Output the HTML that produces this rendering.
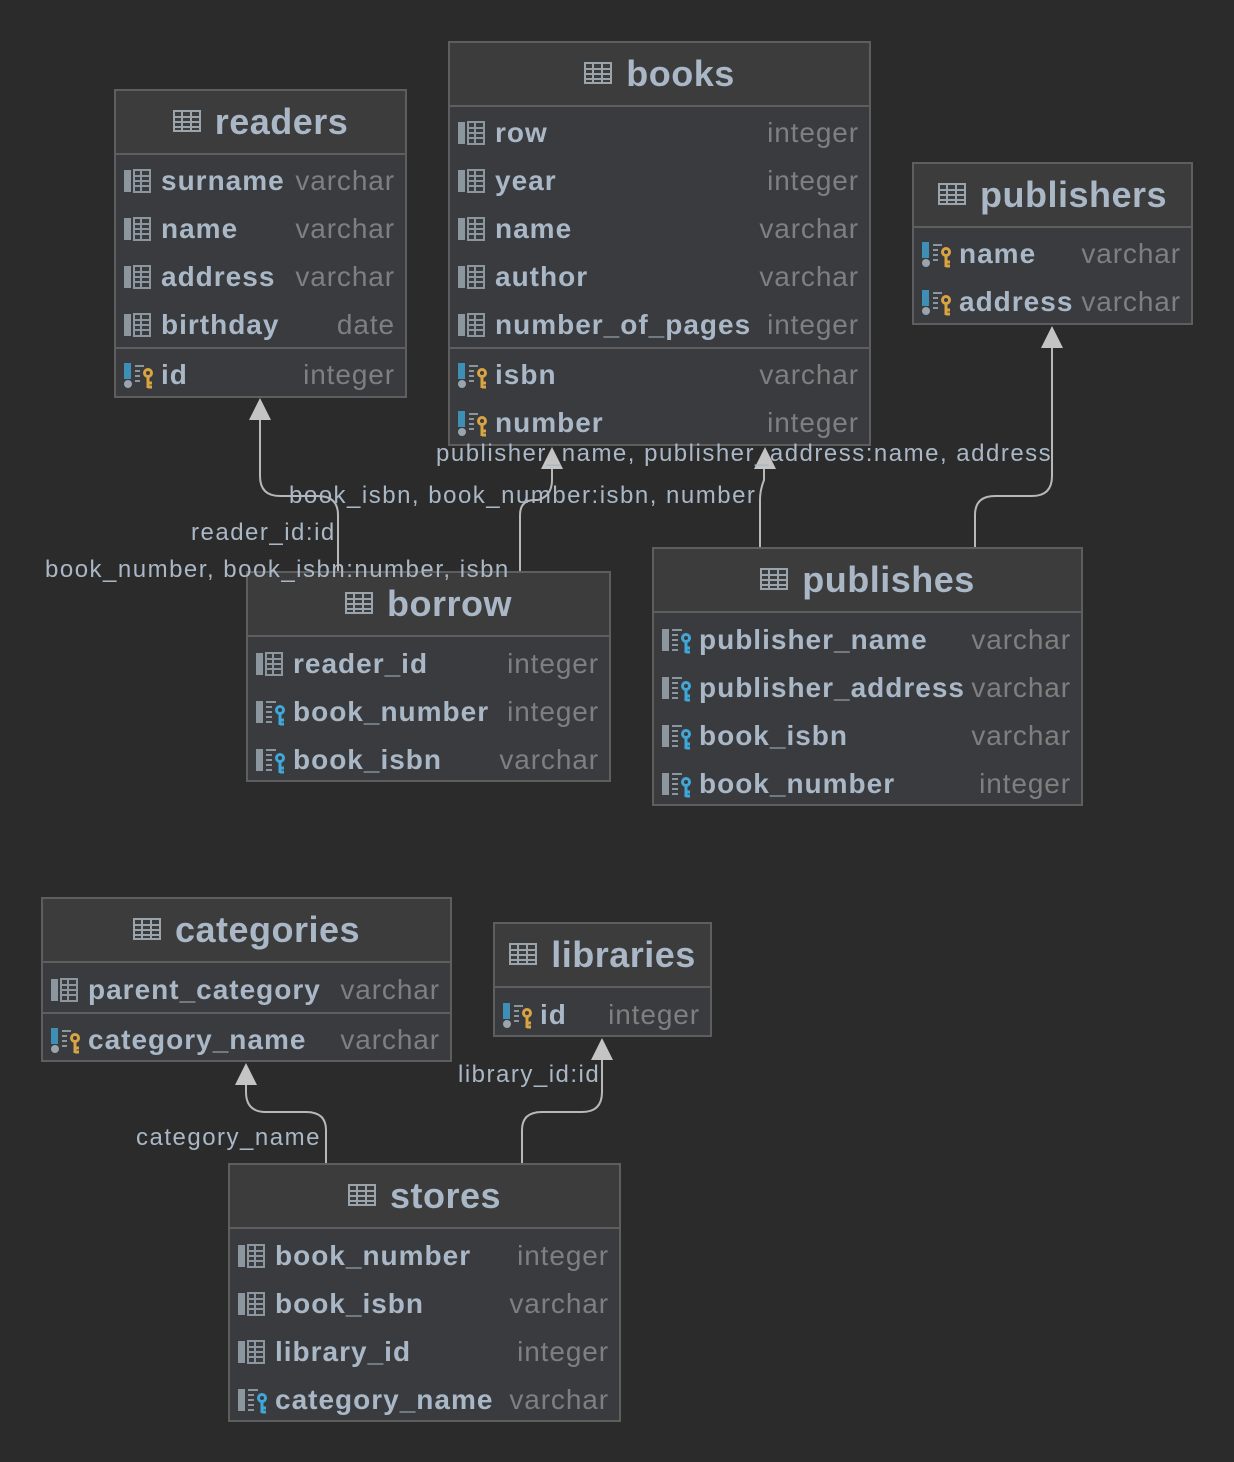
<!DOCTYPE html>
<html><head><meta charset="utf-8"><style>
body{margin:0;width:1234px;height:1462px;background:#2b2b2b;position:relative;overflow:hidden;font-family:"Liberation Sans","DejaVu Sans",sans-serif}
.t{position:absolute;background:#393b3e;border:2px solid #5e5e5e;box-sizing:border-box}
.h{position:absolute;left:0;right:0;top:0;height:62px;background:#3c3c3c;border-bottom:2px solid #5e5e5e;color:#a9b7c6;font-weight:bold;font-size:36px;line-height:62px;text-align:center;letter-spacing:0.5px}
.h svg{vertical-align:middle;margin-right:14px;position:relative;top:-3px}
.r{position:absolute;left:0;right:0;height:48px;line-height:48px;font-size:28px}
.r svg{position:absolute;left:8px;top:12px}
.n{position:absolute;left:45px;color:#a9b7c6;font-weight:bold;letter-spacing:1px}
.y{position:absolute;right:10px;color:#7f7f7f;letter-spacing:0.9px}
.s{position:absolute;left:0;right:0;height:2px;background:#5e5e5e}
.l{position:absolute;color:#a9b7c6;font-size:24px;white-space:nowrap;line-height:24px;letter-spacing:1.5px}
</style></head><body>
<svg width="0" height="0" style="position:absolute">
<defs>
<g id="tb"><rect x="1" y="1" width="26" height="20" fill="none" stroke="#9aa4ad" stroke-width="2"/><path d="M1 7H27M1 12H27M1 17H27M9 1V21M18 1V21" stroke="#9aa4ad" stroke-width="2"/></g>
<g id="col"><rect x="0" y="1" width="7" height="22" fill="#8c969f"/><rect x="10" y="1" width="16" height="22" fill="none" stroke="#8c969f" stroke-width="2"/><path d="M10 7H26M10 12H26M10 17H26M17 1V23" stroke="#8c969f" stroke-width="2"/></g>
<g id="pk"><rect x="0" y="0" width="7" height="16" fill="#3d8fb5"/><circle cx="4" cy="21" r="4" fill="#9aa4ad"/><path d="M11 3H20M11 8H16M11 13H16M11 18H16" stroke="#8c969f" stroke-width="2"/><circle cx="24" cy="10" r="5" fill="#d9a441"/><circle cx="24" cy="10" r="2" fill="#393b3e"/><path d="M24 14V25M24 20H28M24 24H28" stroke="#d9a441" stroke-width="3"/></g>
<g id="fk"><rect x="0" y="1" width="7" height="22" fill="#8c969f"/><path d="M10 2H20M10 7H16M10 12H16M10 17H16M10 22H16" stroke="#8c969f" stroke-width="2"/><circle cx="24" cy="10" r="5" fill="#3fa8d9"/><circle cx="24" cy="10" r="2" fill="#393b3e"/><path d="M24 14V25M24 20H28M24 24H28" stroke="#3fa8d9" stroke-width="3"/></g>
</defs></svg>

<svg width="1234" height="1462" style="position:absolute;left:0;top:0" fill="none" stroke="#b8b8b8" stroke-width="2">
<path d="M338 571V515Q338 496 318 496H280Q260 496 260 476V418"/>
<path d="M520 571V515Q520 500 535 500H538Q552 496 552 480V468"/>
<path d="M760 547V500Q760 490 764 480V468"/>
<path d="M975 547V515Q975 496 995 496H1032Q1052 496 1052 476V346"/>
<path d="M326 1163V1130Q326 1112 306 1112H266Q246 1112 246 1092V1084"/>
<path d="M522 1163V1130Q522 1112 542 1112H582Q602 1112 602 1092V1058"/>
<g fill="#c4c4c4" stroke="none">
<path d="M260 398L249 420H271Z"/><path d="M552 447L541 469H563Z"/><path d="M765 447L754 469H776Z"/>
<path d="M1052 326L1041 348H1063Z"/><path d="M246 1063L235 1085H257Z"/><path d="M602 1038L591 1060H613Z"/>
</g></svg>

<!-- readers -->
<div class="t" style="left:114px;top:89px;width:293px;height:309px">
<div class="h"><svg width="28" height="22"><use href="#tb"/></svg>readers</div>
<div class="r" style="top:66px"><svg width="30" height="26"><use href="#col"/></svg><span class="n">surname</span><span class="y">varchar</span></div>
<div class="r" style="top:114px"><svg width="30" height="26"><use href="#col"/></svg><span class="n">name</span><span class="y">varchar</span></div>
<div class="r" style="top:162px"><svg width="30" height="26"><use href="#col"/></svg><span class="n">address</span><span class="y">varchar</span></div>
<div class="r" style="top:210px"><svg width="30" height="26"><use href="#col"/></svg><span class="n">birthday</span><span class="y">date</span></div>
<div class="s" style="top:256px"></div>
<div class="r" style="top:260px"><svg width="30" height="26"><use href="#pk"/></svg><span class="n">id</span><span class="y">integer</span></div>
</div>

<!-- books -->
<div class="t" style="left:448px;top:41px;width:423px;height:405px">
<div class="h"><svg width="28" height="22"><use href="#tb"/></svg>books</div>
<div class="r" style="top:66px"><svg width="30" height="26"><use href="#col"/></svg><span class="n">row</span><span class="y">integer</span></div>
<div class="r" style="top:114px"><svg width="30" height="26"><use href="#col"/></svg><span class="n">year</span><span class="y">integer</span></div>
<div class="r" style="top:162px"><svg width="30" height="26"><use href="#col"/></svg><span class="n">name</span><span class="y">varchar</span></div>
<div class="r" style="top:210px"><svg width="30" height="26"><use href="#col"/></svg><span class="n">author</span><span class="y">varchar</span></div>
<div class="r" style="top:258px"><svg width="30" height="26"><use href="#col"/></svg><span class="n">number_of_pages</span><span class="y">integer</span></div>
<div class="s" style="top:304px"></div>
<div class="r" style="top:308px"><svg width="30" height="26"><use href="#pk"/></svg><span class="n">isbn</span><span class="y">varchar</span></div>
<div class="r" style="top:356px"><svg width="30" height="26"><use href="#pk"/></svg><span class="n">number</span><span class="y">integer</span></div>
</div>

<!-- publishers -->
<div class="t" style="left:912px;top:162px;width:281px;height:163px">
<div class="h"><svg width="28" height="22"><use href="#tb"/></svg>publishers</div>
<div class="r" style="top:66px"><svg width="30" height="26"><use href="#pk"/></svg><span class="n">name</span><span class="y">varchar</span></div>
<div class="r" style="top:114px"><svg width="30" height="26"><use href="#pk"/></svg><span class="n">address</span><span class="y">varchar</span></div>
</div>

<!-- borrow -->
<div class="t" style="left:246px;top:571px;width:365px;height:211px">
<div class="h"><svg width="28" height="22"><use href="#tb"/></svg>borrow</div>
<div class="r" style="top:67px"><svg width="30" height="26"><use href="#col"/></svg><span class="n">reader_id</span><span class="y">integer</span></div>
<div class="r" style="top:115px"><svg width="30" height="26"><use href="#fk"/></svg><span class="n">book_number</span><span class="y">integer</span></div>
<div class="r" style="top:163px"><svg width="30" height="26"><use href="#fk"/></svg><span class="n">book_isbn</span><span class="y">varchar</span></div>
</div>

<!-- publishes -->
<div class="t" style="left:652px;top:547px;width:431px;height:259px">
<div class="h"><svg width="28" height="22"><use href="#tb"/></svg>publishes</div>
<div class="r" style="top:67px"><svg width="30" height="26"><use href="#fk"/></svg><span class="n">publisher_name</span><span class="y">varchar</span></div>
<div class="r" style="top:115px"><svg width="30" height="26"><use href="#fk"/></svg><span class="n">publisher_address</span><span class="y">varchar</span></div>
<div class="r" style="top:163px"><svg width="30" height="26"><use href="#fk"/></svg><span class="n">book_isbn</span><span class="y">varchar</span></div>
<div class="r" style="top:211px"><svg width="30" height="26"><use href="#fk"/></svg><span class="n">book_number</span><span class="y">integer</span></div>
</div>

<!-- categories -->
<div class="t" style="left:41px;top:897px;width:411px;height:165px">
<div class="h"><svg width="28" height="22"><use href="#tb"/></svg>categories</div>
<div class="r" style="top:67px"><svg width="30" height="26"><use href="#col"/></svg><span class="n">parent_category</span><span class="y">varchar</span></div>
<div class="s" style="top:113px"></div>
<div class="r" style="top:117px"><svg width="30" height="26"><use href="#pk"/></svg><span class="n">category_name</span><span class="y">varchar</span></div>
</div>

<!-- libraries -->
<div class="t" style="left:493px;top:922px;width:219px;height:115px">
<div class="h"><svg width="28" height="22"><use href="#tb"/></svg>libraries</div>
<div class="r" style="top:67px"><svg width="30" height="26"><use href="#pk"/></svg><span class="n">id</span><span class="y">integer</span></div>
</div>

<!-- stores -->
<div class="t" style="left:228px;top:1163px;width:393px;height:259px">
<div class="h"><svg width="28" height="22"><use href="#tb"/></svg>stores</div>
<div class="r" style="top:67px"><svg width="30" height="26"><use href="#col"/></svg><span class="n">book_number</span><span class="y">integer</span></div>
<div class="r" style="top:115px"><svg width="30" height="26"><use href="#col"/></svg><span class="n">book_isbn</span><span class="y">varchar</span></div>
<div class="r" style="top:163px"><svg width="30" height="26"><use href="#col"/></svg><span class="n">library_id</span><span class="y">integer</span></div>
<div class="r" style="top:211px"><svg width="30" height="26"><use href="#fk"/></svg><span class="n">category_name</span><span class="y">varchar</span></div>
</div>

<div class="l" style="left:436px;top:442px">publisher_name, publisher_address:name, address</div>
<div class="l" style="left:289px;top:484px">book_isbn, book_number:isbn, number</div>
<div class="l" style="left:191px;top:521px">reader_id:id</div>
<div class="l" style="left:45px;top:558px">book_number, book_isbn:number, isbn</div>
<div class="l" style="left:458px;top:1063px">library_id:id</div>
<div class="l" style="left:136px;top:1126px">category_name</div>
</body></html>
